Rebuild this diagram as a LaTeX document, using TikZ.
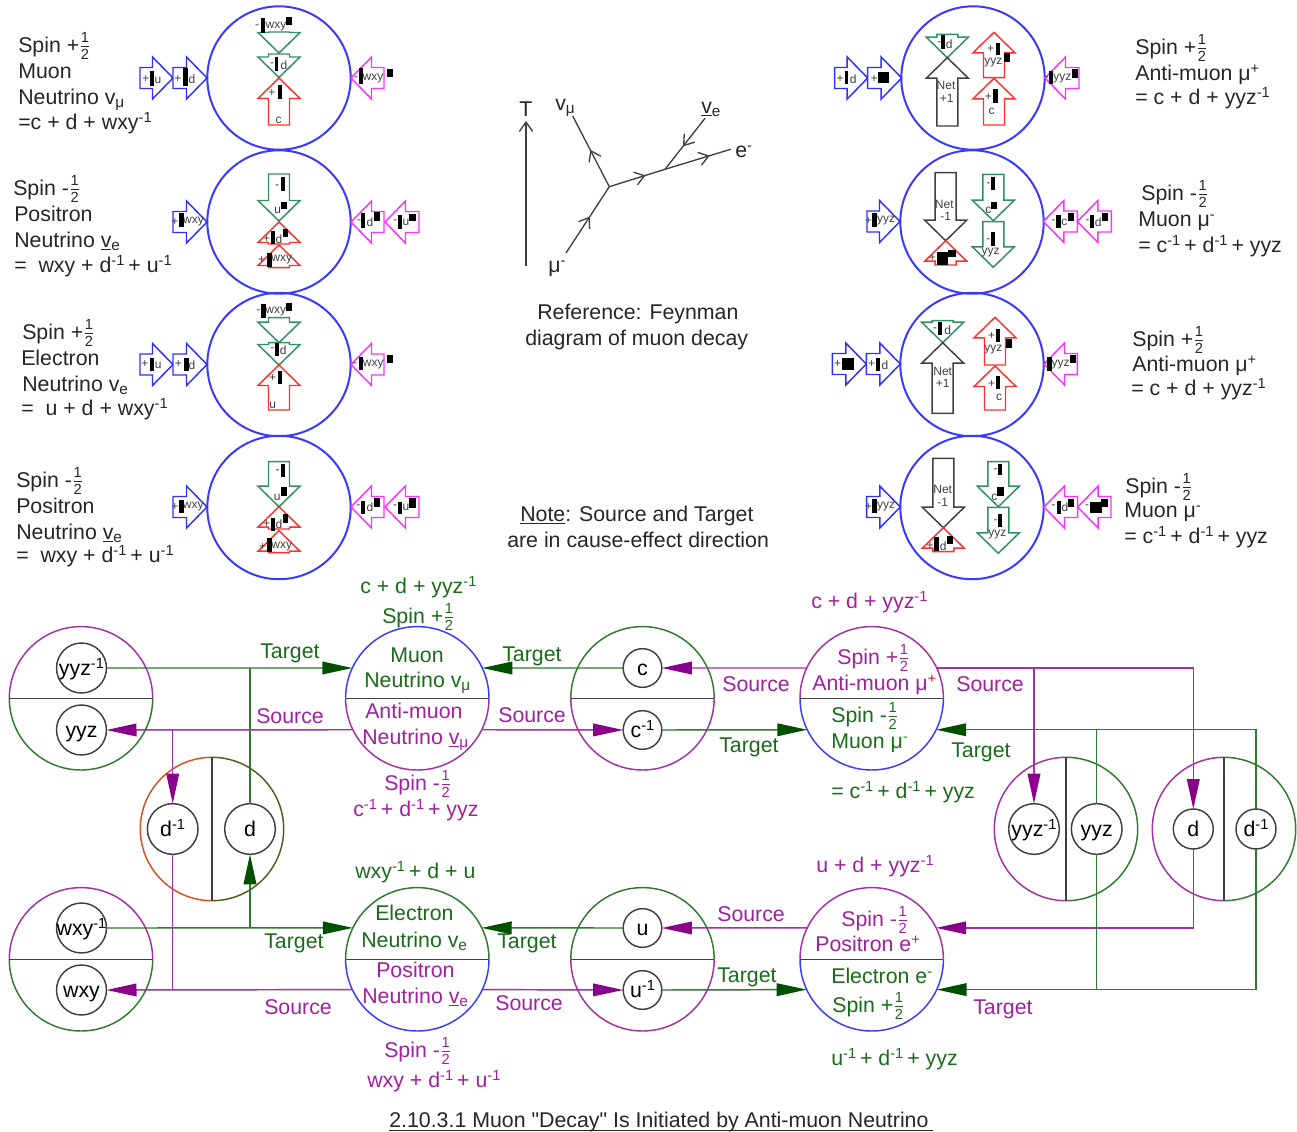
\documentclass[tikz,border=0pt]{standalone}
\usepackage{fontspec}
\setmainfont{Liberation Sans}[Ligatures=TeXOff]
\usetikzlibrary{arrows.meta,decorations.markings}

\definecolor{linegreen}{HTML}{2F7A2F}
\definecolor{tipgreen}{HTML}{005000}
\definecolor{textgreen}{HTML}{1A6B1A}
\definecolor{linepurple}{HTML}{A52FA5}
\definecolor{tippurple}{HTML}{8B008B}
\definecolor{textpurple}{HTML}{A020A0}
\definecolor{circblue}{HTML}{3A3AFF}
\definecolor{arrred}{HTML}{FF3030}
\definecolor{arrgreen}{HTML}{2F9060}
\definecolor{arrblue}{HTML}{3030FF}
\definecolor{arrpink}{HTML}{FF30FF}
\definecolor{ink}{HTML}{404040}
\definecolor{dorange}{HTML}{D9501E}
\definecolor{dolive}{HTML}{4D5E1E}

\newcommand{\sups}[1]{\raisebox{0.62ex}{\fontsize{11}{11}\selectfont #1}}
\newcommand{\mone}{\sups{-1}\kern-1.5pt}
\newcommand{\subs}[1]{\raisebox{-0.32ex}{\fontsize{11.5}{11.5}\selectfont #1}}
\newcommand{\hlf}{\ensuremath{{\mbox{\fontsize{11}{11}\selectfont 1}\over\mbox{\fontsize{11}{11}\selectfont 2}}}}
% big circle in two halves, with the line between them
\newcommand{\halves}[5]{
  \draw[halfline,#4] (#1.#2) arc[start angle=#2,delta angle=180,radius=53.775pt];
  \draw[halfline,#5] (#1.#3) arc[start angle=#3,delta angle=180,radius=53.775pt];
  \draw[divline] (#1.#2) -- (#1.#3);
}

\tikzset{
  txt/.style={anchor=base west,font=\fontsize{16}{19}\selectfont,inner sep=0pt},
  tiny/.style={font=\fontsize{9}{10}\selectfont,text=ink,inner sep=0pt},
  bigc/.style={circle,minimum size=107.55pt,inner sep=0pt,outer sep=0pt},
  spinc/.style={bigc,draw=circblue,line width=1.5pt},
  innerc/.style={circle,draw=ink,fill=white,line width=1.1pt,minimum size=#1,inner sep=-3pt,outer sep=0pt,text height=11.6pt,text depth=0pt,font=\fontsize{16}{19}\selectfont},
  halfline/.style={line width=1.1pt},
  divline/.style={draw=ink,line width=1pt},
  blockline/.style={line width=1.1pt,line join=miter,fill=white},
  grn/.style={draw=linegreen,line width=1.1pt},
  pur/.style={draw=linepurple,line width=1.1pt},
  tipg/.style={-{Triangle[length=22.5pt,width=9.5pt,color=tipgreen]}},
  tipp/.style={-{Triangle[length=22.5pt,width=9.5pt,color=tippurple]}},
  feyn/.style={draw=ink,line width=1pt,postaction={decorate},decoration={markings,mark=at position #1 with {\arrow{Straight Barb[length=7pt,width=10pt]}}}},
}

\begin{document}
\begin{tikzpicture}[x=0.75pt,y=-0.75pt]
  \useasboundingbox (0,0) rectangle (1297,1132);

  % Spin circles
  \foreach \x/\y/\nm in {279/78/A,279/222/B,279/364.5/C,279/507.5/D,973/78/E,972/222/F,972/364.5/G,972/507.5/H}
    \node[spinc] (circ\nm) at (\x,\y) {};

  % Block arrows: tip x / tip y / angle / length / colour
  \foreach \tx/\ty/\ang/\len/\col in {
    173/78/0/33/arrblue, 207/78/0/34/arrblue, 351/78/180/33/arrpink,
    279/53/-90/21/arrgreen, 279/77.5/-90/23.5/arrgreen, 279/78/90/47/arrred,
    207/222/0/34/arrblue, 351/222/180/33/arrpink, 385/222/180/34/arrpink,
    279/221/-90/47/arrgreen, 279/222/90/22/arrred, 279/245/90/22.7/arrred,
    173/364.5/0/33/arrblue, 207/364.5/0/34/arrblue, 351/364.5/180/33/arrpink,
    279/342.7/-90/25/arrgreen, 279/365/-90/22.3/arrgreen, 279/365/90/45/arrred,
    207/507/0/34/arrblue, 351/507/180/33/arrpink, 385/507/180/34/arrpink,
    279/506.7/-90/45/arrgreen, 279/506.7/90/22.3/arrred, 279/530.7/90/22/arrred,
    867.7/78/0/33/arrblue, 901.7/78/0/34/arrblue, 1045/78/180/34/arrpink,
    947.3/57.7/-90/23.3/arrgreen, 947.3/57.7/90/68.3/ink, 994/32.3/90/45.3/arrred, 994/78.3/90/46.7/arrred,
    900/221.5/0/33/arrblue, 1043.3/221.5/180/34/arrpink, 1077.3/221.5/180/34/arrpink,
    945.7/240.7/-90/68/ink, 945.7/240.7/90/24.3/arrred, 993.3/220.7/-90/46.4/arrgreen, 993.3/267.3/-90/45.6/arrgreen,
    866.3/364/0/34/arrblue, 900.3/364/0/34/arrblue, 1044/364/180/33.3/arrpink,
    942.7/342.7/-90/22/arrgreen, 942.7/342.7/90/70.6/ink, 995/317.3/90/47.7/arrred, 995/366/90/44/arrred,
    900.3/507/0/33.6/arrblue, 1044/507/180/33.7/arrpink, 1077.7/507/180/33.3/arrpink,
    943.3/527.7/-90/69.4/ink, 943.3/527.7/90/24/arrred, 998.3/506.7/-90/45/arrgreen, 998.3/553.3/-90/46/arrgreen}
  {
    \begin{scope}[shift={(\tx,\ty)},rotate=\ang]
      \draw[blockline,draw=\col] (0,0) -- (-20.5,21) -- (-20.5,10.5) -- (-\len,10.5)
        -- (-\len,-10.5) -- (-20.5,-10.5) -- (-20.5,-21) -- cycle;
    \end{scope}
  }

  % Small labels in the arrows
  \foreach \x/\y/\t [count=\n] in {
    146/79/+, 158/80/u, 178/79/+, 192/79/d, 356/79/-, 373/79/wxy, 257/27/-, 276/27/wxy, 272/65/-, 284/65/d, 272/93/+, 278.5/120/c,
    175/222/+, 193.5/222/wxy, 359/222/-, 370/222/d, 395/222/-, 406/222/u, 277/187/-, 277.7/210.7/u, 266.7/239/+, 279/239/d, 261.7/260/+, 281.7/260/wxy,
    145/364/+, 158.3/365/u, 178.3/364/+, 192/365/d, 355/365/-, 373.3/365/wxy, 258.3/312/-, 275.7/312/wxy, 272.3/350/-, 283.3/350/d, 272.7/378/+, 272.7/405/u,
    175/507/+, 193.3/507/wxy, 358.3/507/-, 370/507/d, 395/507/-, 406/507/u, 277.7/471.7/-, 277.3/497.3/u, 266.7/524.3/+, 279/524/d, 262.7/546.7/+, 281.7/547/wxy,
    840/79/+, 853.3/79/d, 874/79/+, 1046.7/79/-, 1062.3/79/yyz, 939.3/44/-, 949.3/44/d, 946/85/Net, 946.7/98/+1, 990.7/49/+, 993.3/63/yyz, 988.3/97/+, 991.7/111/c,
    868.3/221/+, 886/221/yyz, 1053.3/222/-, 1064.3/222/c, 1087.3/222/-, 1098.3/222/d, 944.3/204/Net, 945.7/216/-1, 932.3/258/+, 988.3/185/-, 988.3/210/c, 988.3/241/-, 990.7/253/yyz,
    837.7/364/+, 871.7/364/+, 885/365/d, 1045/365/-, 1060.7/365/yyz, 935/330/-, 947.7/330/d, 942.7/371/Net, 942.7/383/+1, 991.7/335.7/+, 993.3/350/yyz, 991.7/384/+, 999/397/c,
    868.3/507/+, 886/507/yyz, 1053.3/507/-, 1065/507/d, 1087/507/-, 942.7/489.3/Net, 942.7/502.3/-1, 930/545.7/+, 943.3/546/d, 995.7/471/-, 994.3/497.3/c, 995.7/521.7/-, 997.3/535/yyz}
    \node[tiny] (tag\n) at (\x,\y) {\t};

  % Black marks in the arrows
  \foreach \xa/\ya/\xb/\yb in {
    150/71/154/86, 183/68/188/86, 359/68/363/84, 387/69/393/77, 261/18/265/33, 286/17/292/25, 275/57/278/71, 278/85/282/99,
    179.3/213.3/183.7/227.3, 361/213.3/365.3/228.3, 373.7/212.3/380/220.7, 397.7/215/401.7/229.3, 409/214/416/220.7, 281/176.7/285.3/190.7, 281/201.7/287.3/209, 270.7/230.7/274.7/244.3, 282.7/229/288.3/237.3, 267.3/253.3/271.7/266.7,
    150/357.7/154.3/371, 184/357.7/188.7/371, 358.7/356.7/363.3/370, 386.7/355/393.3/363.3, 261/304.3/265.7/317.7, 286/303.3/291.7/310.7, 275/342.7/279/356, 278/371/282/384.3,
    179.3/500/184/512.7, 361.3/500.7/365.3/514, 374/498.3/380/506.7, 397.7/501.7/401.7/514, 409/498.3/416/508.3, 281/464/285.3/477.3, 281/486.7/287.3/495.7, 270.7/517.7/274.7/530.7, 282.7/514.3/288.3/522.7, 267.3/538.3/271.7/552.3,
    845/70.7/848.3/84.3, 878.3/71.7/889/82.7, 1049/71/1053.3/84.3, 1071.7/69.3/1077.7/78.3, 941/35/945/49, 995.7/42.7/999.7/55, 1004.3/53.3/1010.3/61.7, 993.3/89.3/997.7/103.3,
    872.3/213.3/877/227.3, 1056.3/215/1061/227.7, 1068.3/213.3/1074.3/220.7, 1090/215/1094.3/228.3, 1102.3/213.3/1108.3/220.7, 936.7/252.3/948.3/265, 948.3/250/955.7/257.3, 990.7/177.3/995.3/190, 991/201.7/997/209, 990.7/231.7/995.3/245.7,
    841.7/357.7/854.3/370, 875.7/357.7/880/371, 1047.3/356.7/1051.7/371, 1070/355/1076/363.3, 938/321.7/942/335, 995.7/329.3/1000.3/342.3, 1006/339.3/1012/348.3, 995.7/376/1000.3/389,
    872.3/499.3/877/512.7, 1056.7/501/1061/514, 1068.3/499.3/1074.3/507.3, 1090/501.7/1101.7/513.3, 1101/499.3/1107.7/507.3, 934.3/537.3/939.3/550.7, 946.7/535.7/952.7/544, 998.3/464/1001.7/475, 997.3/486.7/1004.3/495.7, 998.3/514.3/1001.7/526.7}
    \fill[black] (\xa,\ya) rectangle (\xb,\yb);

  % Black text
  \foreach \x/\y/\t [count=\n] in {
    18/52/{Spin +\hlf}, 18/78/Muon, 18/104/{Neutrino v\subs{μ}}, 18/129/{=c + d + wxy\mone},
    13/195/{Spin -\hlf}, 14/221/Positron, 14/247/{Neutrino \underline{v}\subs{e}}, 14/272/{=\ \ wxy + d\mone{} + u\mone},
    22/339/{Spin +\hlf}, 21/365/Electron, 22/391/{Neutrino v\subs{e}}, 21/415/{=\ \ u + d + wxy\mone},
    16/487/{Spin -\hlf}, 16/513/Positron, 16/539/{Neutrino \underline{v}\subs{e}}, 16/562/{=\ \ wxy + d\mone{} + u\mone},
    1135/54/{Spin +\hlf}, 1135/80/{Anti-muon μ\sups{+}}, 1135/104/{= c + d + yyz\mone},
    1141/200/{Spin -\hlf}, 1138/226/{Muon μ\sups{-}}, 1138/252/{= c\mone{} + d\mone{} + yyz},
    1132/346/{Spin +\hlf}, 1132/371/{Anti-muon μ\sups{+}}, 1131/395/{= c + d + yyz\mone},
    1125/493/{Spin -\hlf}, 1124/517/{Muon μ\sups{-}}, 1124/543/{= c\mone{} + d\mone{} + yyz},
    519/116/T, 555/110/{v\subs{μ}}, 701/113/{\underline{v}\subs{e}}, 735/157/{e\sups{-}}, 548/272/{μ\sups{-}},
    537/319/{Reference: Feynman}, 525/345/{diagram of muon decay},
    520/521/{\underline{Note}: Source and Target}, 507/547/{are in cause-effect direction}}
    \node[txt,text=black!85] (ink\n) at (\x,\y) {\t};

  % Caption with its underline
  \node[txt,text=black!85] (caption) at (389,1127) {2.10.3.1 Muon "Decay" Is Initiated by Anti-muon Neutrino};
  \draw[draw=black!85,line width=1pt] ([yshift=-2.4pt]caption.base west) -- ([xshift=3pt,yshift=-2.4pt]caption.base east);

  % Green text
  \foreach \x/\y/\t [count=\n] in {
    360/593/{c + d + yyz\mone}, 382/623/{Spin +\hlf}, 390/662/Muon, 364/687/{Neutrino v\subs{μ}},
    260/658/Target, 502/661/Target, 719/752/Target, 951/757/Target,
    831/722/{Spin -\hlf}, 831/748/{Muon μ\textcolor{green!70!black}{\sups{-}}}, 831/798/{= c\mone{} + d\mone{} + yyz},
    355/878/{wxy\mone{} + d + u}, 375/920/Electron, 361/947/{Neutrino v\subs{e}},
    264/948/Target, 497/948/Target, 717/982/Target,
    831/983/{Electron e\sups{-}}, 832/1012/{Spin +\hlf}, 831/1065/{u\mone{} + d\mone{} + yyz}}
    \node[txt,text=textgreen] (grn\n) at (\x,\y) {\t};

  % Purple text
  \foreach \x/\y/\t [count=\n] in {
    365/718/Anti-muon, 362/744/{Neutrino \underline{v}\subs{μ}}, 384/790/{Spin -\hlf}, 353/816/{c\mone{} + d\mone{} + yyz},
    256/723/Source, 498/722/Source, 722/691/Source, 956/691/Source,
    811/608/{c + d + yyz\mone}, 837/664/{Spin +\hlf}, 812/690/{Anti-muon μ\textcolor{red}{\sups{+}}},
    376/977/Positron, 362/1003/{Neutrino \underline{v}\subs{e}}, 384/1057/{Spin -\hlf}, 367/1087/{wxy + d\mone{} + u\mone},
    264/1014/Source, 495/1010/Source, 717/921/Source,
    816/872/{u + d + yyz\mone}, 841/926/{Spin -\hlf}, 815/951/{Positron e\sups{+}}, 973/1014/Target}
    \node[txt,text=textpurple] (pur\n) at (\x,\y) {\t};

  % Feynman diagram
  \coordinate (tstart) at (526,266);
  \coordinate (tend) at (526,121);
  \coordinate (mu) at (566,253);
  \coordinate (vertex) at (609.3,186.7);
  \coordinate (numu) at (572.7,116);
  \coordinate (fork) at (665,169.3);
  \coordinate (elec) at (730.7,149.3);
  \coordinate (nue) at (705,118.3);
  \draw[draw=ink,line width=1pt,-{Straight Barb[length=7pt,width=10pt]}] (tstart) -- (tend);
  \draw[feyn=0.55] (mu) -- (vertex);
  \draw[feyn=0.52] (vertex) -- (numu);
  \draw[feyn=0.65] (vertex) -- (fork);
  \draw[feyn=0.68] (fork) -- (elec);
  \draw[feyn=0.55] (nue) -- (fork);

  % Big circles
  \node[bigc] (bigyyz) at (81,698.3) {};
  \node[bigc] (muon) at (417.3,698.3) {};
  \node[bigc] (bigc) at (642.5,698.3) {};
  \node[bigc] (antimu) at (871.7,698.3) {};
  \node[bigc] (bigd) at (212,829) {};
  \node[bigc] (bigwxy) at (81,959.3) {};
  \node[bigc] (electron) at (417.3,959.3) {};
  \node[bigc] (bigu) at (642.5,959.3) {};
  \node[bigc] (positron) at (871.7,959.3) {};
  \node[bigc] (bigyyzr) at (1066,829) {};
  \node[bigc] (bigdr) at (1224,829) {};

  \halves{bigyyz}{0}{180}{linepurple}{linegreen}
  \halves{muon}{0}{180}{circblue}{linepurple}
  \halves{bigc}{0}{180}{linegreen}{linepurple}
  \halves{antimu}{0}{180}{linepurple}{circblue}
  \halves{bigd}{90}{270}{dorange}{dolive}
  \halves{bigwxy}{0}{180}{linepurple}{linegreen}
  \halves{electron}{0}{180}{linegreen}{circblue}
  \halves{bigu}{0}{180}{linegreen}{linepurple}
  \halves{positron}{0}{180}{linepurple}{circblue}
  \halves{bigyyzr}{90}{270}{linepurple}{linegreen}
  \halves{bigdr}{90}{270}{linepurple}{linegreen}

  % Inner circles
  \node[innerc=37.5pt] (yyzinv) at (81.5,668) {yyz\sups{-1}};
  \node[innerc=37.5pt] (yyz) at (81.5,730) {yyz};
  \node[innerc=38pt] (dinv) at (172.7,829) {d\sups{-1}};
  \node[innerc=38pt] (dd) at (250,829) {d};
  \node[innerc=37.5pt] (wxyinv) at (81.5,928) {wxy\sups{-1}};
  \node[innerc=37.5pt] (wxy) at (81.5,990) {wxy};
  \node[innerc=29pt] (cc) at (642.5,668) {c};
  \node[innerc=29pt] (cinv) at (642.5,730) {c\sups{-1}};
  \node[innerc=29pt] (uu) at (642.5,928) {u};
  \node[innerc=29pt] (uinv) at (642.5,990) {u\sups{-1}};
  \node[innerc=38pt] (yyzinvr) at (1034,829) {yyz\sups{-1}};
  \node[innerc=38pt] (yyzr) at (1096.7,829) {yyz};
  \node[innerc=30pt] (dr) at (1193.3,829) {d};
  \node[innerc=30pt] (dinvr) at (1256,829) {d\sups{-1}};

  % Connections, upper row
  \draw[grn,tipg] (yyzinv.east) -- (muon.155);
  \draw[grn] (dd.north) -- (dd.north |- yyzinv.east);
  \draw[pur,tipp] (muon.206) -- (yyz.east);
  \draw[pur,tipp] (dinv.north |- yyz.east) -- (dinv.north);
  \draw[grn,tipg] (cc.west) -- (muon.25);
  \draw[pur,tipp] (muon.334) -- (cinv.west);
  \draw[grn,tipg] (cinv.east) -- (antimu.206);
  \draw[pur,tipp] (antimu.155) -- (cc.east);
  \draw[pur,tipp] (antimu.25) -| (dr.north);
  \draw[pur,tipp] (yyzinvr.north |- antimu.25) -- (yyzinvr.north);
  \draw[grn,tipg] (dinvr.north) |- (antimu.334);
  \draw[grn] (yyzr.north) -- (yyzr.north |- antimu.334);

  % Connections, lower row
  \draw[grn,tipg] (wxyinv.east) -- (electron.154);
  \draw[grn,tipg] (dd.south |- wxyinv.east) -- (dd.south);
  \draw[pur,tipp] (electron.205) -- (wxy.east);
  \draw[pur] (dinv.south) -- (dinv.south |- wxy.east);
  \draw[grn,tipg] (uu.west) -- (electron.26);
  \draw[pur,tipp] (electron.335) -- (uinv.west);
  \draw[grn,tipg] (uinv.east) -- (positron.205);
  \draw[pur,tipp] (positron.154) -- (uu.east);
  \draw[pur,tipp] (dr.south) |- (positron.26);
  \draw[grn,tipg] (dinvr.south) |- (positron.335);
  \draw[grn] (yyzr.south) -- (yyzr.south |- positron.335);

\end{tikzpicture}
\end{document}
